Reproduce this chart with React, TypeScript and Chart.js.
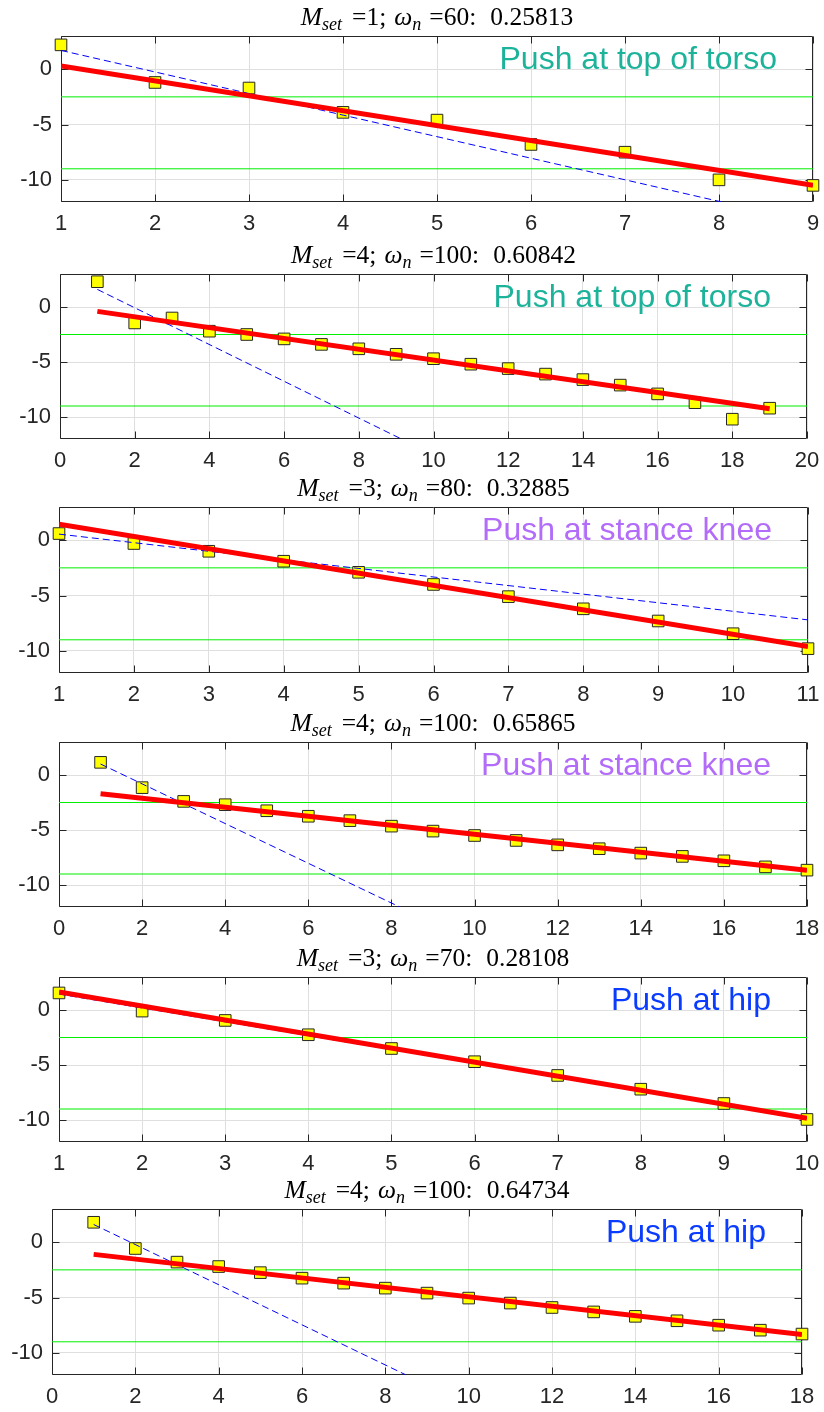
import React, { useEffect, useRef } from "react";
import { Chart, registerables } from "chart.js";

Chart.register(...registerables);

// ---- measured values per trial (step index -> value) ----
const torsoASteps = [1, 2, 3, 4, 5, 6, 7, 8, 9];
const torsoAValues = [2.2, -1.2, -1.7, -3.9, -4.6, -6.8, -7.5, -10.0, -10.5];
const torsoAFitX = [1, 9];
const torsoAFitY = [0.3, -10.5];
const torsoAGuideX = [1, 8.03];
const torsoAGuideY = [1.7, -12];

const torsoBSteps = [1, 2, 3, 4, 5, 6, 7, 8, 9, 10, 11, 12, 13, 14, 15, 16, 17, 18, 19];
const torsoBValues = [2.3, -1.45, -1.0, -2.2, -2.5, -2.9, -3.4, -3.8, -4.3, -4.7, -5.2, -5.6, -6.1, -6.6, -7.1, -7.9, -8.7, -10.2, -9.2];
const torsoBFitX = [1, 19];
const torsoBFitY = [-0.4, -9.25];
const torsoBGuideX = [1, 9.14];
const torsoBGuideY = [1.6, -12];

const kneeASteps = [1, 2, 3, 4, 5, 6, 7, 8, 9, 10, 11];
const kneeAValues = [0.6, -0.3, -1.0, -1.9, -2.9, -4.0, -5.1, -6.2, -7.3, -8.45, -9.8];
const kneeAFitX = [1, 11];
const kneeAFitY = [1.45, -9.6];
const kneeAGuideX = [1, 11];
const kneeAGuideY = [0.55, -7.2];

const kneeBSteps = [1, 2, 3, 4, 5, 6, 7, 8, 9, 10, 11, 12, 13, 14, 15, 16, 17, 18];
const kneeBValues = [1.15, -1.15, -2.4, -2.7, -3.25, -3.75, -4.15, -4.65, -5.1, -5.5, -5.95, -6.35, -6.7, -7.1, -7.4, -7.8, -8.35, -8.65];
const kneeBFitX = [1, 18];
const kneeBFitY = [-1.7, -8.65];
const kneeBGuideX = [1, 8.2];
const kneeBGuideY = [1.0, -12];

const hipASteps = [1, 2, 3, 4, 5, 6, 7, 8, 9, 10];
const hipAValues = [1.55, -0.1, -0.95, -2.25, -3.5, -4.7, -5.95, -7.2, -8.5, -9.95];
const hipAFitX = [1, 10];
const hipAFitY = [1.65, -9.85];
const hipAGuideX = [1, 10];
const hipAGuideY = [1.45, -9.9];

const hipBSteps = [1, 2, 3, 4, 5, 6, 7, 8, 9, 10, 11, 12, 13, 14, 15, 16, 17, 18];
const hipBValues = [1.8, -0.57, -1.8, -2.2, -2.75, -3.25, -3.7, -4.15, -4.6, -5.05, -5.5, -5.9, -6.3, -6.7, -7.1, -7.5, -7.95, -8.3];
const hipBFitX = [1, 18];
const hipBFitY = [-1.1, -8.35];
const hipBGuideX = [1, 8.5];
const hipBGuideY = [1.6, -12];

// ---- shared axis values ----
const thresholds = [-2.5, -9];
const yTickValues = [-10, -5, 0];
const yRange = [-12, 3];
const xRanges = [[1, 9], [0, 20], [1, 11], [0, 18], [1, 10], [0, 18]];
const xSteps = [1, 2, 1, 2, 1, 2];

// ---- titles and labels ----
const mSet = [1, 4, 3, 4, 3, 4];
const omegaN = [60, 100, 80, 100, 70, 100];
const scores = ["0.25813", "0.60842", "0.32885", "0.65865", "0.28108", "0.64734"];
const pushLabels = [
  "Push at top of torso",
  "Push at top of torso",
  "Push at stance knee",
  "Push at stance knee",
  "Push at hip",
  "Push at hip",
];
const pushColors = ["#1db39b", "#1db39b", "#b26cf9", "#b26cf9", "#0a3cff", "#0a3cff"];

const series = [
  [torsoASteps, torsoAValues, torsoAFitX, torsoAFitY, torsoAGuideX, torsoAGuideY],
  [torsoBSteps, torsoBValues, torsoBFitX, torsoBFitY, torsoBGuideX, torsoBGuideY],
  [kneeASteps, kneeAValues, kneeAFitX, kneeAFitY, kneeAGuideX, kneeAGuideY],
  [kneeBSteps, kneeBValues, kneeBFitX, kneeBFitY, kneeBGuideX, kneeBGuideY],
  [hipASteps, hipAValues, hipAFitX, hipAFitY, hipAGuideX, hipAGuideY],
  [hipBSteps, hipBValues, hipBFitX, hipBFitY, hipBGuideX, hipBGuideY],
];

// plot-area frames on the page (left, top, right, bottom)
const frames = [
  { l: 61, t: 36, r: 813, b: 202 },
  { l: 60, t: 274, r: 807, b: 439 },
  { l: 59, t: 507, r: 808, b: 673 },
  { l: 59, t: 742, r: 807, b: 907 },
  { l: 59, t: 977, r: 807, b: 1142 },
  { l: 52, t: 1209, r: 802, b: 1375 },
];

const PAGE_W = 824;
const TOP_PAD = 36;
const X_AXIS_H = 40;
const AXIS_COLOR = "#262626";
const GRID_COLOR = "#dfdfdf";
const SANS = '"Liberation Sans", Arial, sans-serif';
const SERIF = '"Liberation Serif", "Times New Roman", serif';

const zip = (xs: number[], ys: number[]) => xs.map((x, i) => ({ x, y: ys[i] }));

// Box around the plot area with inward tick marks on all four sides
const boxPlugin = {
  id: "boxTicks",
  beforeDatasetsDraw(chart: any) {
    const { ctx, chartArea: a, scales } = chart;
    const L = Math.round(a.left) + 0.5;
    const R = Math.round(a.right) - 0.5;
    const T = Math.round(a.top) + 0.5;
    const B = Math.round(a.bottom) - 0.5;
    const tl = 7;
    ctx.save();
    ctx.strokeStyle = AXIS_COLOR;
    ctx.lineWidth = 1;
    ctx.beginPath();
    ctx.rect(L, T, R - L, B - T);
    scales.x.ticks.forEach((t: any) => {
      const px = Math.round(scales.x.getPixelForValue(t.value)) + 0.5;
      ctx.moveTo(px, T);
      ctx.lineTo(px, T + tl);
      ctx.moveTo(px, B);
      ctx.lineTo(px, B - tl);
    });
    scales.y.ticks.forEach((t: any) => {
      const py = Math.round(scales.y.getPixelForValue(t.value)) + 0.5;
      ctx.moveTo(L, py);
      ctx.lineTo(L + tl, py);
      ctx.moveTo(R, py);
      ctx.lineTo(R - tl, py);
    });
    ctx.stroke();
    ctx.restore();
  },
};

// Title with italic symbols and subscripts, plus the push-location note
const textPlugin = {
  id: "panelText",
  afterDraw(chart: any) {
    const o = chart.options.plugins.panelText;
    if (!o) return;
    const { ctx, chartArea: a, scales } = chart;
    ctx.save();
    const big = 25.5;
    const small = 18;
    const runs: any[] = [
      { t: "M", f: `italic ${big}px ${SERIF}`, dy: 0 },
      { t: "set", f: `italic ${small}px ${SERIF}`, dy: 5 },
      { gap: 10 },
      { t: `=${o.m};`, f: `${big}px ${SERIF}`, dy: 0 },
      { gap: 8 },
      { t: "\u03c9", f: `italic ${big}px ${SERIF}`, dy: 0 },
      { t: "n", f: `italic ${small}px ${SERIF}`, dy: 5 },
      { gap: 8 },
      { t: `=${o.w}:`, f: `${big}px ${SERIF}`, dy: 0 },
      { gap: 14 },
      { t: o.score, f: `${big}px ${SERIF}`, dy: 0 },
    ];
    let total = 0;
    runs.forEach((r) => {
      if (r.gap) {
        r.width = r.gap;
      } else {
        ctx.font = r.f;
        r.width = ctx.measureText(r.t).width;
      }
      total += r.width;
    });
    let x = (a.left + a.right) / 2 - total / 2;
    const base = a.top - 11;
    ctx.fillStyle = "#000";
    ctx.textBaseline = "alphabetic";
    ctx.textAlign = "left";
    runs.forEach((r) => {
      if (!r.gap) {
        ctx.font = r.f;
        ctx.fillText(r.t, x, base + r.dy);
      }
      x += r.width;
    });

    ctx.font = `32px ${SANS}`;
    ctx.fillStyle = o.color;
    ctx.textAlign = "right";
    ctx.fillText(o.label, a.right - 36, scales.y.getPixelForValue(0));
    ctx.restore();
  },
};

function Panel({ idx }: { idx: number }) {
  const ref = useRef<HTMLCanvasElement | null>(null);
  const f = frames[idx];
  const h = f.b - f.t + TOP_PAD + X_AXIS_H;

  useEffect(() => {
    if (!ref.current) return;
    const [sx, sy, fx, fy, gx, gy] = series[idx];
    const [xmin, xmax] = xRanges[idx];
    const tickFont = { family: SANS, size: 22 };
    const chart = new Chart(ref.current, {
      type: "scatter",
      data: {
        datasets: [
          {
            data: zip(fx, fy),
            showLine: true,
            borderColor: "#ff0000",
            borderWidth: 5,
            pointRadius: 0,
            borderCapStyle: "butt",
          },
          {
            data: zip(gx, gy),
            showLine: true,
            borderColor: "#0000ff",
            borderWidth: 1,
            borderDash: [7, 4],
            pointRadius: 0,
          },
          {
            data: zip(sx, sy),
            showLine: false,
            clip: false,
            pointStyle: "rect",
            pointRadius: 8.2,
            backgroundColor: "#ffff00",
            borderColor: "#262626",
            borderWidth: 1,
          },
          ...thresholds.map((v) => ({
            data: [
              { x: xmin, y: v },
              { x: xmax, y: v },
            ],
            showLine: true,
            borderColor: "#00f000",
            borderWidth: 1,
            pointRadius: 0,
          })),
        ],
      },
      options: {
        animation: false,
        responsive: false,
        devicePixelRatio: 1,
        events: [],
        layout: { padding: { top: TOP_PAD, left: 0, right: PAGE_W - f.r, bottom: 0 } },
        plugins: {
          legend: { display: false },
          tooltip: { enabled: false },
          panelText: {
            m: mSet[idx],
            w: omegaN[idx],
            score: scores[idx],
            label: pushLabels[idx],
            color: pushColors[idx],
          },
        } as any,
        scales: {
          x: {
            type: "linear",
            min: xmin,
            max: xmax,
            ticks: {
              stepSize: xSteps[idx],
              font: tickFont,
              color: AXIS_COLOR,
              padding: 9,
              maxRotation: 0,
              autoSkip: false,
            },
            grid: { color: GRID_COLOR, drawTicks: false },
            border: { display: false },
            afterFit: (s: any) => {
              s.height = X_AXIS_H;
              s.paddingLeft = 0;
              s.paddingRight = 0;
            },
          },
          y: {
            type: "linear",
            min: yRange[0],
            max: yRange[1],
            afterBuildTicks: (s: any) => {
              s.ticks = yTickValues.map((v) => ({ value: v }));
            },
            ticks: {
              font: tickFont,
              color: AXIS_COLOR,
              padding: 9,
              callback: (v: any) => String(v),
            },
            grid: { color: GRID_COLOR, drawTicks: false },
            border: { display: false },
            afterFit: (s: any) => {
              s.width = f.l;
              s.paddingTop = 0;
              s.paddingBottom = 0;
            },
          },
        },
      } as any,
      plugins: [boxPlugin, textPlugin],
    });
    return () => chart.destroy();
  }, [idx]);

  return (
    <div style={{ position: "absolute", left: 0, top: f.t - TOP_PAD, width: PAGE_W, height: h }}>
      <canvas ref={ref} width={PAGE_W} height={h} style={{ display: "block" }} />
    </div>
  );
}

export default function App() {
  useEffect(() => {
    document.body.style.margin = "0";
    document.body.style.background = "#fff";
  }, []);
  return (
    <div style={{ position: "relative", width: PAGE_W, height: 1412, background: "#fff" }}>
      {frames.map((_, i) => (
        <Panel key={i} idx={i} />
      ))}
    </div>
  );
}
